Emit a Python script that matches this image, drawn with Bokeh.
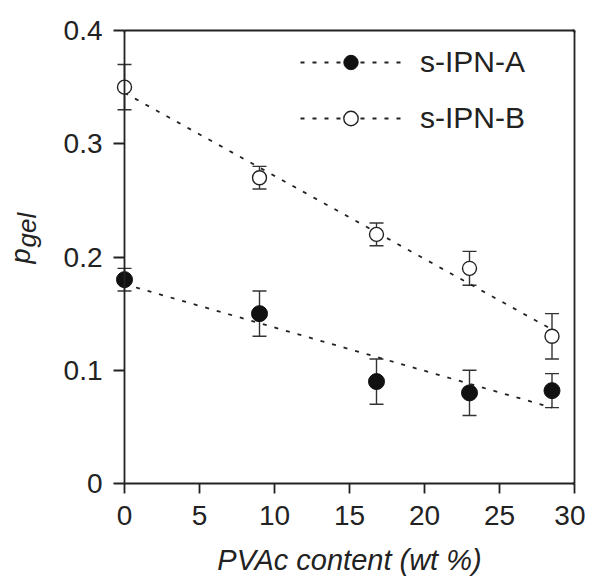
from bokeh.plotting import figure
from bokeh.models import (Range1d, LinearAxis, FixedTicker, Legend, LegendItem,
                          Label, Whisker, TeeHead, ColumnDataSource, Span)
from bokeh.embed import file_html
from bokeh.resources import INLINE

# ---- data ----
pvac = [0, 9, 16.8, 23, 28.5]
a_gel = [0.18, 0.15, 0.09, 0.08, 0.082]
a_lo = [0.17, 0.13, 0.07, 0.06, 0.067]
a_hi = [0.19, 0.17, 0.11, 0.10, 0.097]
b_gel = [0.35, 0.27, 0.22, 0.19, 0.13]
b_lo = [0.33, 0.26, 0.21, 0.175, 0.11]
b_hi = [0.37, 0.28, 0.23, 0.205, 0.15]
fit_x = [0, 28.5]
a_fit = [0.176, 0.067]
b_fit = [0.345, 0.136]
x_ticks = [0, 5, 10, 15, 20, 25, 30]
y_ticks = [0, 0.1, 0.2, 0.3, 0.4]
y_tick_labels = ["0", "0.1", "0.2", "0.3", "0.4"]
series_names = ["s-IPN-A", "s-IPN-B"]
x_title = "PVAc content (wt %)"
y_title = ["p", "gel"]

FONT = "Liberation Sans"
INK = "#222222"

p = figure(width=585, height=578,
           x_range=Range1d(-1, 30), y_range=Range1d(0, 0.4),
           output_backend="svg", toolbar_location=None,
           min_border_left=106, min_border_top=30, min_border_right=11,
           min_border_bottom=95, x_axis_type=None, y_axis_type=None)
p.outline_line_color = None
p.grid.visible = False


def style_axis(ax, lw=1.8):
    ax.axis_line_color = INK
    ax.axis_line_width = lw
    ax.major_tick_line_color = INK
    ax.major_tick_line_width = lw
    ax.minor_tick_line_color = None
    ax.major_label_text_font = FONT
    ax.major_label_text_font_size = "28px"
    ax.major_label_text_color = INK


xax = LinearAxis(ticker=FixedTicker(ticks=x_ticks), bounds=(0, 30))
style_axis(xax)
xax.major_tick_out = 10
xax.major_tick_in = 0
xax.major_label_standoff = 12
p.add_layout(xax, "below")

yax = LinearAxis(ticker=FixedTicker(ticks=y_ticks))
style_axis(yax)
yax.axis_line_color = None
yax.major_tick_in = 15
yax.major_tick_out = -4
yax.major_label_standoff = 7
yax.major_label_overrides = {t: s for t, s in zip(y_ticks, y_tick_labels)}
p.add_layout(yax, "left")

top = LinearAxis(ticker=FixedTicker(ticks=[0, 30]), bounds=(0, 30))
style_axis(top)
top.major_label_overrides = {0: "", 30: ""}
top.major_label_standoff = 0
top.major_tick_out = 0
p.add_layout(top, "above")

right = LinearAxis(ticker=FixedTicker(ticks=[0, 0.4]))
style_axis(right)
right.major_label_overrides = {0: "", 0.4: ""}
right.major_label_standoff = 0
right.major_tick_out = 0
p.add_layout(right, "right")

p.add_layout(Span(location=0, dimension="height", line_color=INK, line_width=1.8))

# fit lines
la = p.line(fit_x, a_fit, line_color=INK, line_width=1.8, line_dash="4 8")
lb = p.line(fit_x, b_fit, line_color=INK, line_width=1.8, line_dash="4 8")

# error bars
for ys, lo, hi in [(a_gel, a_lo, a_hi), (b_gel, b_lo, b_hi)]:
    src = ColumnDataSource(dict(x=pvac, lo=lo, hi=hi))
    w = Whisker(source=src, base="x", lower="lo", upper="hi", level="underlay",
                line_color="#333333", line_width=1.4,
                lower_head=TeeHead(size=14, line_color="#333333", line_width=1.4),
                upper_head=TeeHead(size=14, line_color="#333333", line_width=1.4))
    p.add_layout(w)

sa = p.scatter(pvac, a_gel, marker="circle", size=16, fill_color="#111111",
               line_color="#111111", line_width=1)
sb = p.scatter(pvac, b_gel, marker="circle", size=14, fill_color="white",
               line_color=INK, line_width=1.4)

legend = Legend(items=[LegendItem(label=series_names[0], renderers=[la, sa]),
                       LegendItem(label=series_names[1], renderers=[lb, sb])],
                location=(191, 347), glyph_width=101, glyph_height=36,
                label_height=36, spacing=20, label_standoff=19, padding=0,
                margin=0, border_line_color=None, background_fill_alpha=0,
                label_text_font=FONT, label_text_font_size="30px",
                label_text_color=INK, label_text_baseline="middle")
p.add_layout(legend, "center")

# axis titles
p.add_layout(Label(x=15, y=-0.0672, text=x_title, text_align="center",
                   text_baseline="alphabetic", text_font=FONT,
                   text_font_size="29px", text_font_style="italic",
                   text_color=INK), "below")
p.add_layout(Label(x=-6.92, y=0.1943, text=y_title[0], angle=90, angle_units="deg",
                   text_align="left", text_baseline="alphabetic", text_font=FONT,
                   text_font_size="27px", text_font_style="italic",
                   text_color=INK), "left")
p.add_layout(Label(x=-6.49, y=0.2084, text=y_title[1], angle=90, angle_units="deg",
                   text_align="left", text_baseline="alphabetic", text_font=FONT,
                   text_font_size="26px", text_font_style="italic",
                   text_color=INK), "left")

open("out.html", "w").write(file_html(p, INLINE))
